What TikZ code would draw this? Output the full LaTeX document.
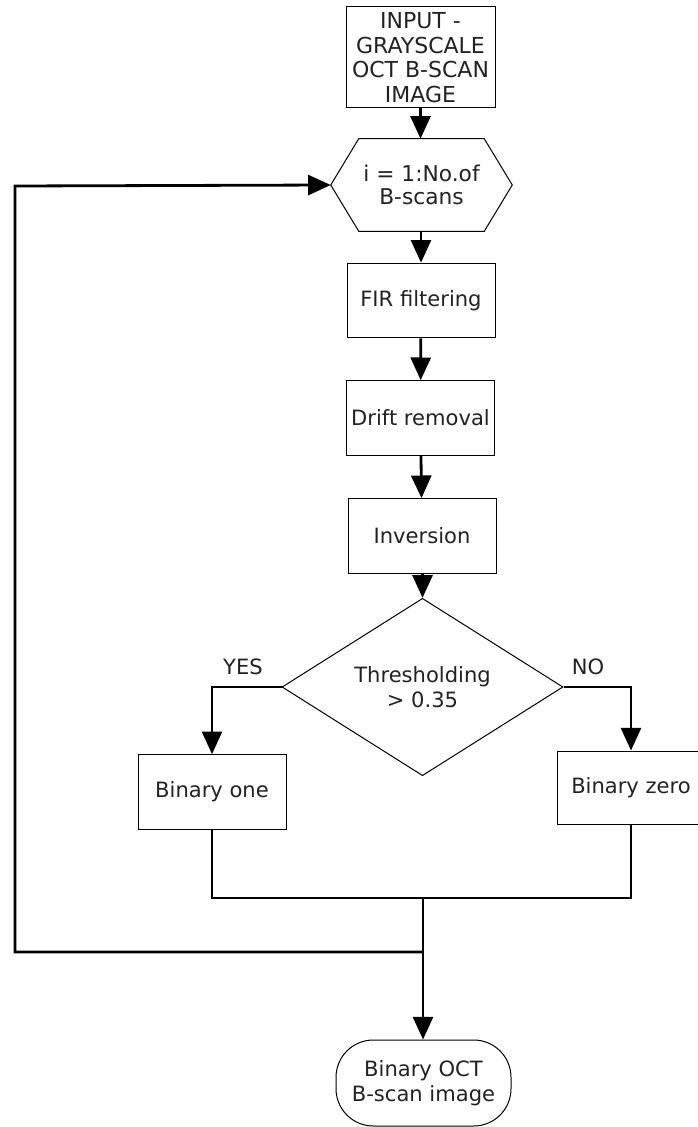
\documentclass[tikz,border=0pt]{standalone}
\usepackage{fontspec}
\setmainfont{DejaVu Sans}
\usetikzlibrary{arrows.meta,shapes.geometric}
\definecolor{txtgray}{HTML}{222222}
\begin{document}
\begin{tikzpicture}[x=0.75pt, y=-0.75pt,
	every node/.style={font=\fontsize{15.8}{18.5}\selectfont, text=txtgray, align=center, inner sep=0pt},
	procbox/.style={draw, line width=0.75pt, minimum width=111pt, minimum height=56pt},
	flow/.style={line width=2.1pt, -{Triangle[width=15pt,length=17pt]}},
	wire/.style={line width=2.1pt}]
	\useasboundingbox (0,0) rectangle (698,1127);
	\draw (420.5,57.5) node[procbox, minimum width=111.75pt, minimum height=75.75pt, font=\fontsize{16.5}{18.5}\selectfont] (input) {INPUT -\\GRAYSCALE\\OCT B-SCAN\\IMAGE};
	\draw (421.5,185) node[minimum width=135.75pt, minimum height=69pt, font=\fontsize{16.3}{17.5}\selectfont] (loop) {i = 1:No.of\\B-scans};
	\draw[line width=0.75pt] ([xshift=21pt]loop.north west) -- ([xshift=-21pt]loop.north east) -- (loop.east)
		-- ([xshift=-21pt]loop.south east) -- ([xshift=21pt]loop.south west) -- (loop.west) -- cycle;
	\draw (421,300.5) node[procbox] (fir) {FIR filtering};
	\draw (420.5,418) node[procbox] (drift) {Drift removal};
	\draw (422,536) node[procbox] (inv) {Inversion};
	\draw (422.5,687) node[diamond, draw, line width=0.75pt, minimum width=210.75pt, minimum height=106.5pt] (thr) {Thresholding\\> 0.35};
	\draw (212,792) node[procbox] (one) {Binary one};
	\draw (631,787.5) node[procbox, minimum height=54.75pt] (zero) {Binary zero};
	\draw (423.5,1083) node[draw, line width=0.75pt, rounded corners=28pt, minimum width=131.25pt, minimum height=64.5pt] (out) {Binary OCT\\B-scan image};
	\draw (243,667) node (yes) {YES};
	\draw (588,667) node (no) {NO};
	% junctions
	\coordinate (merge) at (423,898);
	\coordinate (back) at (423,952);
	% main chain
	\draw[flow] (input) -- (input|-loop.north);
	\draw[flow] (fir|-loop.south) -- (fir);
	\draw[flow] (fir) -- (drift);
	\draw[flow] (drift) -- (inv);
	\draw[flow] (inv.south-|thr.north) -- (thr.north);
	\draw[flow] (thr.west) -| (one.north);
	\draw[flow] (thr.east) -| (zero.north);
	\draw[wire] (one.south) |- (merge);
	\draw[wire] (zero.south) |- (merge);
	\draw[flow] (merge) -- (merge|-out.north);
	\draw[flow] (back) -| (15,186) -- (loop.west);
\end{tikzpicture}
\end{document}
